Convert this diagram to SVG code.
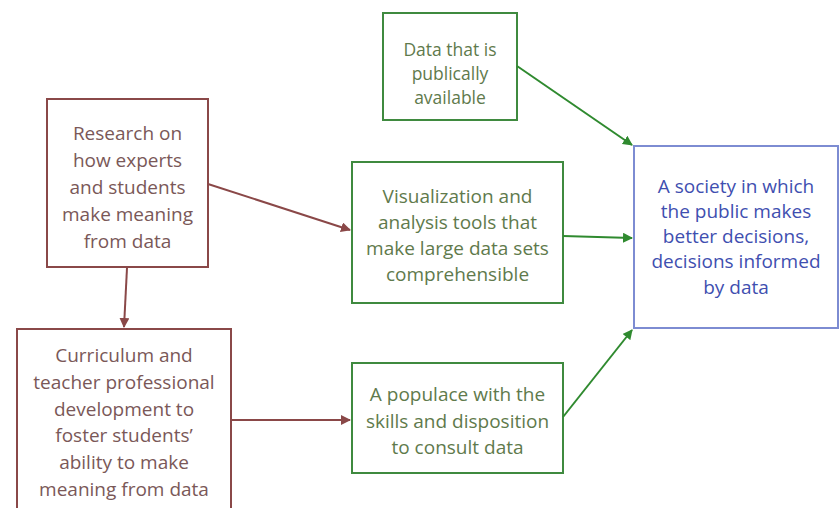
<svg xmlns="http://www.w3.org/2000/svg" width="839" height="508" viewBox="0 0 839 508">
<style>
text{font-family:"Open Sans","Liberation Sans",sans-serif;font-size:19px;text-anchor:middle}
.br rect{fill:#fff;stroke:#8a4848;stroke-width:2}
.br text{fill:#7a5858}
.gr rect{fill:#fff;stroke:#3f8a3f;stroke-width:2}
.gr text{fill:#5f7a4c}
#data text{font-size:17.5px}
.bl rect{fill:#fff;stroke:#7d8cd2;stroke-width:2}
.bl text{fill:#3f4fb0}
.cb{stroke:#8a4848;stroke-width:2;fill:none}
.cg{stroke:#2f8a2f;stroke-width:2;fill:none}
</style>
<defs>
<marker id="ab" viewBox="0 0 10 10" refX="9" refY="5" markerWidth="5" markerHeight="5" orient="auto" markerUnits="strokeWidth"><path d="M0,0L10,5L0,10z" fill="#8a4848"/></marker>
<marker id="ag" viewBox="0 0 10 10" refX="9" refY="5" markerWidth="5" markerHeight="5" orient="auto" markerUnits="strokeWidth"><path d="M0,0L10,5L0,10z" fill="#2f8a2f"/></marker>
</defs>
<rect width="839" height="508" fill="#fff"/>
<g id="research" class="br">
<rect x="47" y="99" width="161" height="168"/>
<text x="127.5" y="140">Research on</text>
<text x="127.5" y="167">how experts</text>
<text x="127.5" y="194">and students</text>
<text x="127.5" y="221">make meaning</text>
<text x="127.5" y="248">from data</text>
</g>
<g id="curriculum" class="br">
<rect x="17" y="329" width="214" height="190"/>
<text x="124" y="362">Curriculum and</text>
<text x="124" y="389">teacher professional</text>
<text x="124" y="416">development to</text>
<text x="124" y="442">foster students’</text>
<text x="124" y="469">ability to make</text>
<text x="124" y="496">meaning from data</text>
</g>
<g id="data" class="gr">
<rect x="383" y="13" width="134" height="107"/>
<text x="450" y="56">Data that is</text>
<text x="450" y="80">publically</text>
<text x="450" y="104">available</text>
</g>
<g id="visualization" class="gr">
<rect x="352" y="162" width="211" height="141"/>
<text x="457.5" y="203">Visualization and</text>
<text x="457.5" y="229">analysis tools that</text>
<text x="457.5" y="255">make large data sets</text>
<text x="457.5" y="281">comprehensible</text>
</g>
<g id="populace" class="gr">
<rect x="352" y="363" width="211" height="110"/>
<text x="457.5" y="401">A populace with the</text>
<text x="457.5" y="428">skills and disposition</text>
<text x="457.5" y="454">to consult data</text>
</g>
<g id="society" class="bl">
<rect x="634" y="146" width="204" height="182"/>
<text x="736" y="193">A society in which</text>
<text x="736" y="218">the public makes</text>
<text x="736" y="243">better decisions,</text>
<text x="736" y="268">decisions informed</text>
<text x="736" y="294">by data</text>
</g>
<g id="connectors">
<line class="cb" x1="127" y1="268" x2="124" y2="327" marker-end="url(#ab)"/>
<line class="cb" x1="208" y1="184" x2="350" y2="230" marker-end="url(#ab)"/>
<line class="cb" x1="231" y1="420" x2="350" y2="420" marker-end="url(#ab)"/>
<line class="cg" x1="517" y1="66" x2="632" y2="145" marker-end="url(#ag)"/>
<line class="cg" x1="563" y1="236" x2="632" y2="238" marker-end="url(#ag)"/>
<line class="cg" x1="563" y1="417" x2="632" y2="330" marker-end="url(#ag)"/>
</g>
</svg>
